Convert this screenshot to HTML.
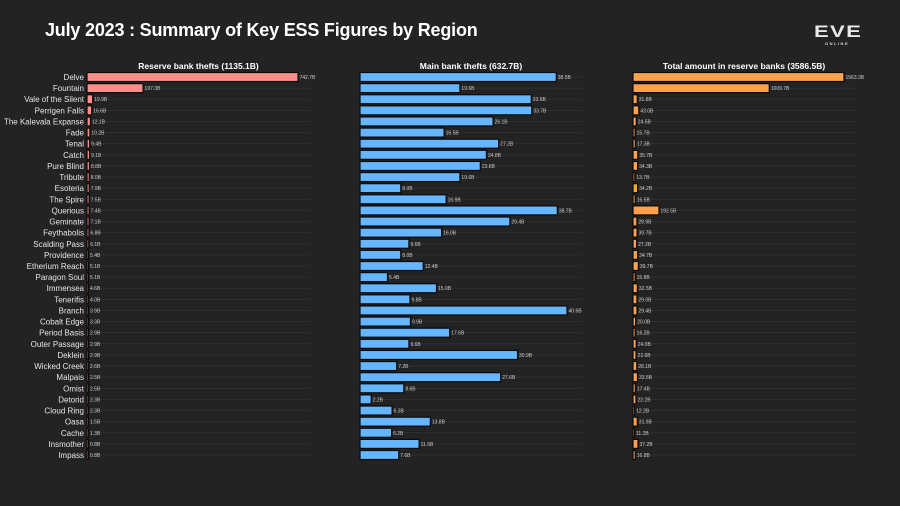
<!DOCTYPE html>
<html><head><meta charset="utf-8"><style>
html,body{margin:0;padding:0;background:#232323;}
#wrap{position:relative;width:900px;height:506px;overflow:hidden;background:#232323;font-family:"Liberation Sans",sans-serif;}
#title{position:absolute;left:45px;top:20px;color:#fff;font-weight:bold;font-size:18px;letter-spacing:-0.2px;}
#logo{position:absolute;left:814px;top:22px;color:#e8e8e8;font-weight:bold;font-size:17px;letter-spacing:1px;transform:scaleX(1.3);transform-origin:left;}
#logo2{position:absolute;left:825px;top:41px;color:#ddd;font-size:4px;font-weight:bold;letter-spacing:1.5px;}
</style></head><body>
<div id="wrap">
<div id="title">July 2023 : Summary of Key ESS Figures by Region</div>
<div id="logo">EVE</div>
<div id="logo2">ONLINE</div>
<svg id="svg" width="900" height="506" style="position:absolute;left:0;top:0"></svg>
</div>
<script>
const cats = ["Delve","Fountain","Vale of the Silent","Perrigen Falls","The Kalevala Expanse","Fade","Tenal","Catch","Pure Blind","Tribute","Esoteria","The Spire","Querious","Geminate","Feythabolis","Scalding Pass","Providence","Etherium Reach","Paragon Soul","Immensea","Tenerifis","Branch","Cobalt Edge","Period Basis","Outer Passage","Deklein","Wicked Creek","Malpais","Omist","Detorid","Cloud Ring","Oasa","Cache","Insmother","Impass"];
const reserveThefts = [742.7,197.3,19.9,16.6,12.1,10.2,9.4,9.1,8.8,8.0,7.9,7.5,7.4,7.1,6.8,6.1,5.4,5.1,5.1,4.6,4.0,3.9,3.3,2.9,2.9,2.9,2.6,2.5,2.5,2.3,2.3,1.5,1.3,0.8,0.8];
const mainThefts = [38.5,19.6,33.6,33.7,26.1,16.5,27.2,24.8,23.6,19.6,8.0,16.9,38.7,29.4,16.0,9.6,8.0,12.4,5.4,15.0,9.8,40.6,9.9,17.6,9.6,30.9,7.2,27.6,8.6,2.2,6.3,13.8,6.2,11.6,7.6];
const reserveTotal = [1563.3,1009.7,31.8,43.0,24.5,15.7,17.3,35.7,34.3,13.7,34.2,16.5,192.5,28.9,30.7,27.2,34.7,39.7,15.8,32.5,29.0,29.4,20.0,16.2,24.0,22.6,28.1,33.5,17.4,22.2,12.2,31.9,11.2,37.2,16.8];
const panelTitles = ["Reserve bank thefts (1135.1B)","Main bank thefts (632.7B)","Total amount in reserve banks (3586.5B)"];

const svg = document.getElementById('svg');
const NS = 'http://www.w3.org/2000/svg';
const y0 = 77, step = (455-77)/34, bh = 9;
function yPos(i){ return y0 + i*step; }
function mk(tag, attrs){ const e=document.createElementNS(NS,tag); for(const k in attrs) e.setAttribute(k,attrs[k]); svg.appendChild(e); return e; }

const panels = [
 {data:reserveThefts, x0:87, w:211, gridEnd:310, color:'#ff8f88', name:'reserve-thefts'},
 {data:mainThefts, x0:360, w:207, gridEnd:582, color:'#66b5ff', name:'main-thefts'},
 {data:reserveTotal, x0:633, w:211, gridEnd:855, color:'#ffa04f', name:'reserve-total'}
];

cats.forEach((c,i)=>{
  const t = mk('text',{x:84,y:yPos(i)+3,'text-anchor':'end',fill:'#e6e6e6','font-size':'8','font-family':'Liberation Sans, sans-serif'});
  t.textContent = c;
  
  
});

panels.forEach((p,pi)=>{
  const max = Math.max(...p.data);
  const sx = v => p.w * v / max;
  const tt = mk('text',{x:(p.x0+p.gridEnd)/2,y:69,'text-anchor':'middle',fill:'#fff','font-size':'8.5','font-weight':'bold','font-family':'Liberation Sans, sans-serif'});
  tt.textContent = panelTitles[pi];
  
  
  p.data.forEach((v,i)=>{
    const y = yPos(i);
    const g = mk('line',{x1:p.x0,x2:p.gridEnd,y1:y,y2:y,stroke:'#333','stroke-width':'0.8'});
    
    
    const w = Math.max(sx(v),1.5);
    const r = mk('rect',{x:p.x0,y:y-bh/2,width:w,height:bh,fill:p.color,stroke:'#0a0a0a','stroke-width':'1.2'});
    
    
    const t = mk('text',{x:p.x0+w+1.5,y:y+2,fill:'#cccccc','font-size':'5','font-family':'Liberation Sans, sans-serif'});
    t.textContent = v.toFixed(1)+'B';
    
    
  });
});
</script>
</body></html>
